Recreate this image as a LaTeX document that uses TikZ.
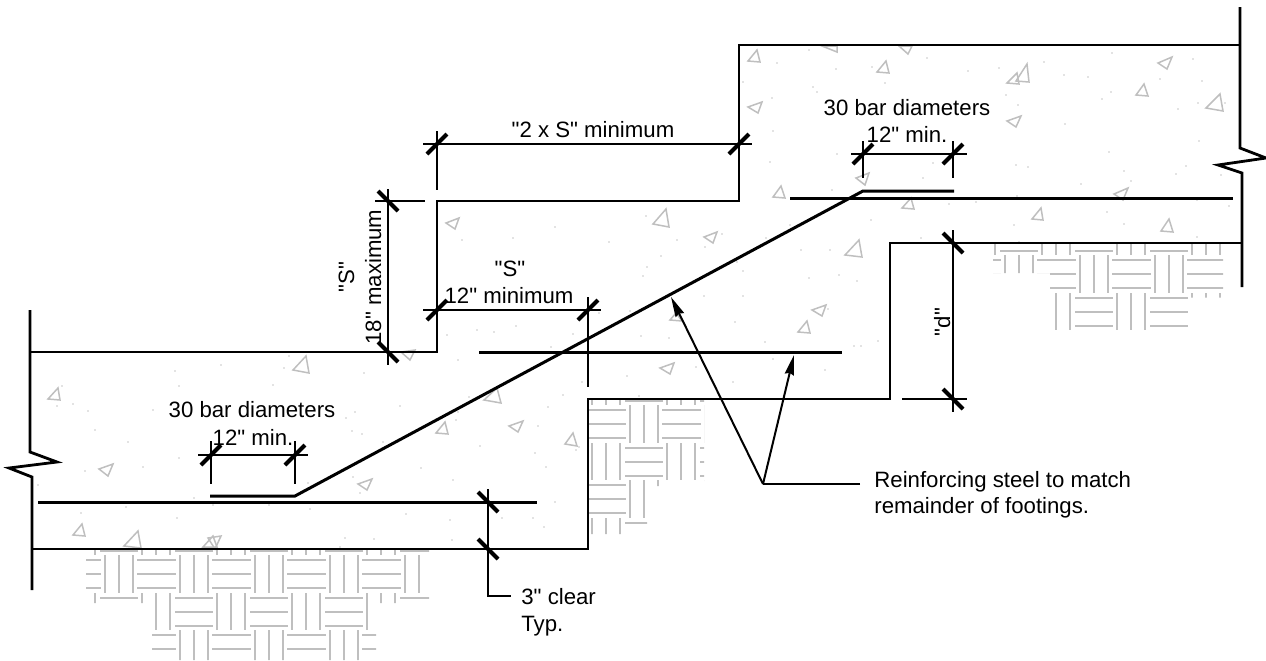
\documentclass[tikz,border=0pt]{standalone}
\usepackage{fontspec}
\setmainfont[Ligatures=TeXOff]{Liberation Sans}
\usetikzlibrary{arrows.meta}

\tikzset{
	outline/.style={line width=1pt, line join=miter},
	breakline/.style={line width=1.4pt, line join=miter},
	rebar/.style={line width=1.5pt},
	dimline/.style={line width=0.9pt},
	tick/.style={line width=2pt},
	leader/.style={line width=1pt, -{Stealth[length=10pt, width=4.6pt, inset=0.8pt]}},
	aggregate/.style={draw=black!25, line width=0.75pt, line join=miter},
	grit/.style={fill=black!22},
	hatch/.style={draw=black!25, line width=0.7pt},
	label/.style={font=\fontsize{11.1}{13.8}\selectfont, inner sep=0pt, align=center},
}

\begin{document}
\begin{tikzpicture}[x=0.5pt, y=-0.5pt]
	\useasboundingbox (0,0) rectangle (1266,660);

	\begin{scope}
		\clip (94,550) -- (429,550) -- (429,555) -- (420,555) -- (420,593) -- (429,593) -- (429,603) -- (370,603) -- (370,630) -- (376,630) -- (376,660) -- (152,660) -- (152,630) -- (150,630) -- (150,603) -- (94,603) -- (94,593) -- (86,593) -- (86,555) -- (94,555) -- cycle
			(589,399) -- (704,399) -- (704,481) -- (660,481) -- (660,486) -- (647,486) -- (647,534) -- (589,534) -- cycle
			(993,244) -- (1223,244) -- (1223,297.5) -- (1189,297.5) -- (1189,329.8) -- (1055,329.8) -- (1055,293) -- (1050,293) -- (1050,273) -- (993,273) -- cycle;
		\foreach \row in {223,298,373,448,523,598}
			\foreach \col in {25,100,...,1225} {
				\draw[hatch] (\col,\row) -- ++(38,0) (\col,\row+14) -- ++(38,0) (\col,\row+28) -- ++(38,0);
				\draw[hatch] (\col-33,\row-5) -- ++(0,37) (\col-19,\row-5) -- ++(0,37) (\col-5,\row-5) -- ++(0,37);
				\draw[hatch] (\col-38,\row+37) -- ++(39,0) (\col-38,\row+51) -- ++(39,0) (\col-38,\row+65) -- ++(39,0);
				\draw[hatch] (\col+5,\row+32) -- ++(0,38) (\col+19,\row+32) -- ++(0,38) (\col+33,\row+32) -- ++(0,38);
			}
	\end{scope}

	\foreach \ax/\ay/\bx/\by/\cx/\cy in {48/399/58/388/60/400, 293/370/306/356/309/373, 99/469/113/464/108/476, 73/535/82/524/85/536, 124/546/138/531/141/548, 203/547/213/536/217/547, 208/538/221/536/215/549, 401/352/415/350/410/360, 484/400/497/388/501/403, 436/433/445/422/448/434, 509/426/523/421/518/432, 565/444/573/433/577/446, 358/484/372/479/367/490, 446/223/459/218/455/229, 653/224/666/209/669/227, 704/237/717/232/713/243, 670/320/676/313/682/321, 660/368/674/363/670/374, 812/310/826/305/822/316, 798/332/807/321/810/333, 845/255/859/240/862/257, 773/197/781/186/785/198, 748/61/757/50/760/62, 748/107/762/102/758/113, 822/46/837/52/837/46, 899/46/912/46/908/54, 877/72/886/61/889/73, 1007/83/1017/73/1019/84, 1016/81/1027/64/1029/82, 1007/121/1021/116/1016/127, 1158/63/1172/57/1167/69, 1136/95/1144/84/1148/96, 1206/108/1220/94/1223/111, 856/178/869/173/865/185, 902/208/911/198/914/209, 1114/194/1128/188/1123/200, 1032/219/1041/208/1043/220, 1161/231/1169/219/1173/232}
		\draw[aggregate] (\ax,\ay) -- (\bx,\by) -- (\cx,\cy) -- cycle;

	\foreach \px/\py in {62/386, 57/406, 73/404, 88/411, 95/430, 128/442, 153/410, 175/371, 179/386, 221/365, 284/368, 289/356, 273/385, 143/467, 85/471, 179/458, 38/485, 194/498, 213/505, 126/507, 81/513, 177/518, 269/505, 310/509, 308/483,
		458/360, 364/373, 400/406, 346/418, 355/412, 352/431, 362/434, 383/442, 458/412, 456/420, 469/397, 548/407, 563/395, 582/382, 538/426, 480/446, 535/453, 546/467, 421/468, 453/480, 353/477, 360/493, 406/514, 450/520, 502/518, 533/518, 544/527, 555/502, 345/538, 374/539, 452/540, 340/547, 576/450, 579/447,
		646/216, 555/227, 462/240, 513/238, 609/242, 677/240, 705/247, 722/234, 661/256, 647/267, 643/276, 704/296, 630/311, 641/336, 669/338, 599/313, 573/334, 551/347, 516/326, 494/332, 477/330, 447/335,
		766/238, 790/225, 801/250, 830/250, 737/262, 743/271, 809/278, 839/275, 857/281, 743/296, 828/309, 854/346, 861/346, 878/341, 765/342, 773/359, 733/382, 825/370, 735/322, 696/367, 627/376, 639/396,
		809/50, 836/69, 872/67, 885/83, 813/87, 817/92, 927/58, 968/71, 999/68, 1006/95, 1018/105, 1044/62, 1064/75, 1088/77, 1112/53, 1111/92, 1102/99, 1160/79, 1193/59, 1202/81, 1178/109, 1198/103, 1225/103, 1199/141, 1065/124, 1109/152, 1016/165, 1028/167, 1186/166, 1176/174, 1124/171, 1131/181, 1081/184, 1221/175, 837/154, 933/163, 923/178, 832/190, 1017/196, 976/202, 949/204, 1197/200, 1229/206, 1107/212, 1124/224, 1014/225, 871/220, 921/238, 1019/242, 1197/237,
		743/82, 772/98, 777/63, 773/131, 770/162}
		\fill[grit] (\px,\py) circle (0.9);

	\draw[outline] (30,352) -- (437,352) -- (437,201) -- (739,201) -- (739,45) -- (1240,45);
	\draw[outline] (32,549) -- (588,549) -- (588,399) -- (890,399) -- (890,243) -- (1242,243);
	\draw[breakline] (30,310) -- (30,452) -- (57,462) -- (9,468) -- (32,477) -- (32,590);
	\draw[breakline] (1240,7) -- (1240,148) -- (1266,158) -- (1218,165) -- (1242,173) -- (1242,287);

	\draw[rebar] (38,502) -- (537,502);
	\draw[rebar] (479,352) -- (842,352);
	\draw[rebar] (790,198) -- (1233,198);
	\draw[rebar] (210,496) -- (295,496) -- (863,191) -- (954,191);

	\coordinate (sbot) at (388,352);
	\coordinate (stop) at (388,201);
	\coordinate (twoL) at (437,144);
	\coordinate (twoR) at (739,144);
	\coordinate (minL) at (437,310);
	\coordinate (minR) at (588,310);
	\coordinate (lapAL) at (211,455);
	\coordinate (lapAR) at (295,455);
	\coordinate (lapBL) at (863,154);
	\coordinate (lapBR) at (953,154);
	\coordinate (dtop) at (953,243);
	\coordinate (dbot) at (953,399);
	\coordinate (clrA) at (488,502);
	\coordinate (clrB) at (488,549);

	\draw[dimline] (423,144) -- (752,144);
	\draw[dimline] (437,131) -- (437,190);
	\draw[dimline] (388,189) -- (388,365);
	\draw[dimline] (375,201) -- (425,201);
	\draw[dimline] (423,310) -- (601,310);
	\draw[dimline] (437,297) -- (437,345);
	\draw[dimline] (588,297) -- (588,387);
	\draw[dimline] (198,455) -- (308,455);
	\draw[dimline] (211,441) -- (211,484);
	\draw[dimline] (295,441) -- (295,484);
	\draw[dimline] (851,154) -- (967,154);
	\draw[dimline] (863,141) -- (863,178);
	\draw[dimline] (953,141) -- (953,178);
	\draw[dimline] (953,230) -- (953,412);
	\draw[dimline] (902,399) -- (967,399);
	\draw[dimline] (488,489) -- (488,596) -- (511,596);

	\foreach \c in {twoL, twoR, minL, minR, lapAL, lapAR, lapBL, lapBR}
		\draw[tick] (\c) +(-10,10) -- +(10,-10);
	\foreach \c in {stop, sbot, dtop, dbot, clrA, clrB}
		\draw[tick] (\c) +(-10,-10) -- +(10,10);

	\coordinate (bend) at (763,484);
	\coordinate (noteEnd) at (860,484);
	\coordinate (barA) at (671,297);
	\coordinate (barB) at (794,355);
	\draw[leader] (bend) -- (barA);
	\draw[leader] (bend) -- (barB);
	\draw[dimline] (noteEnd) -- (bend);

	\node[label, anchor=base] (twoS) at (593,137) {"2 x S" minimum};
	\node[label, anchor=base] (esS) at (510,276) {"S"};
	\node[label, anchor=base] (esMin) at (509,303) {12" minimum};
	\node[label, anchor=base, rotate=90] (esV) at (354,277) {"S"};
	\node[label, anchor=base, rotate=90] (esMax) at (381,277) {18" maximum};
	\node[label, anchor=base, rotate=90] (dee) at (950,322) {"d"};
	\node[label, anchor=base] (barsA) at (252,417) {30 bar diameters};
	\node[label, anchor=base] (lapA) at (253,445) {12" min.};
	\node[label, anchor=base] (barsB) at (907,115) {30 bar diameters};
	\node[label, anchor=base] (lapB) at (907,142) {12" min.};
	\node[label, anchor=base west] (noteA) at (874,487) {Reinforcing steel to match};
	\node[label, anchor=base west] (noteB) at (874,513) {remainder of footings.};
	\node[label, anchor=base west] (clearA) at (521,604) {3" clear};
	\node[label, anchor=base west] (clearB) at (521,631) {Typ.};
\end{tikzpicture}
\end{document}
